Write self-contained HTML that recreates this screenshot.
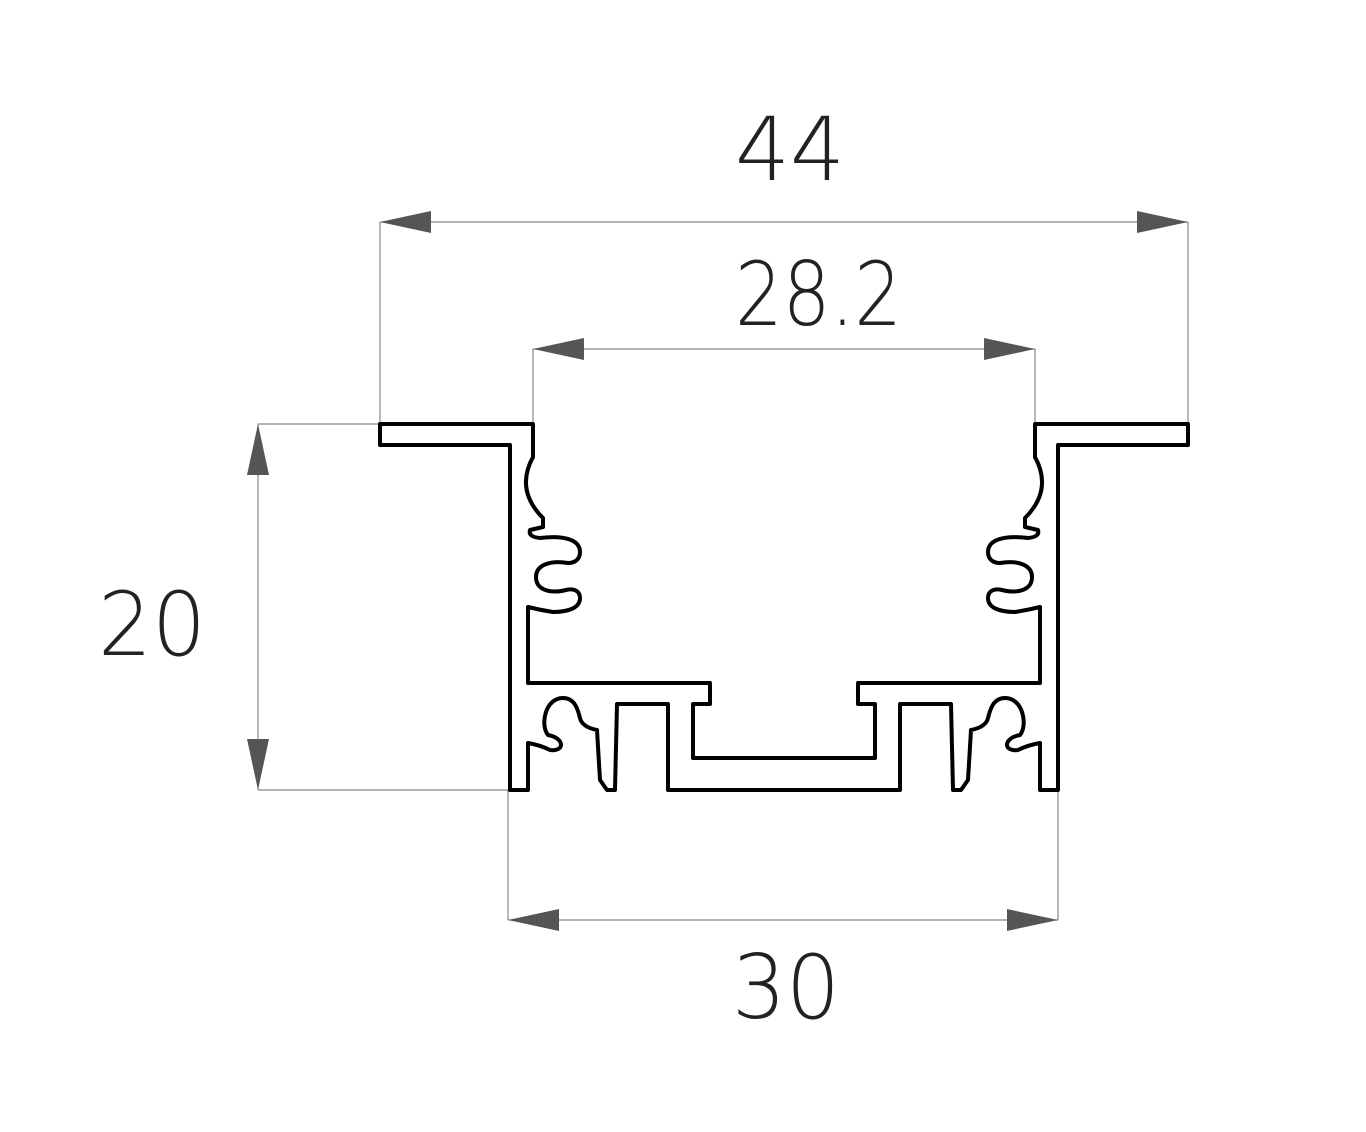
<!DOCTYPE html>
<html><head><meta charset="utf-8"><style>
html,body{margin:0;padding:0;background:#fff;}
svg{display:block;}
text{font-family:"DejaVu Sans","Liberation Sans",sans-serif;font-weight:200;fill:#222;}
</style></head><body>
<svg width="1366" height="1132" viewBox="0 0 1366 1132" xmlns="http://www.w3.org/2000/svg">
<g stroke="#888" stroke-width="1.2" fill="none">
<line x1="380" y1="222" x2="1188" y2="222"/>
<line x1="380" y1="222" x2="380" y2="424"/>
<line x1="1188" y1="222" x2="1188" y2="424"/>
<line x1="533" y1="349" x2="1035" y2="349"/>
<line x1="533" y1="349" x2="533" y2="424"/>
<line x1="1035" y1="349" x2="1035" y2="424"/>
<line x1="258" y1="424" x2="258" y2="790"/>
<line x1="258" y1="424" x2="380" y2="424"/>
<line x1="258" y1="790" x2="510" y2="790"/>
<line x1="508" y1="920" x2="1058" y2="920"/>
<line x1="508" y1="790" x2="508" y2="920"/>
<line x1="1058" y1="790" x2="1058" y2="920"/>
</g>
<g fill="#555">
<polygon points="380,222 431,211 431,233"/>
<polygon points="1188,222 1137,211 1137,233"/>
<polygon points="533,349 584,338 584,360"/>
<polygon points="1035,349 984,338 984,360"/>
<polygon points="258,424 247,475 269,475"/>
<polygon points="258,790 247,739 269,739"/>
<polygon points="508,920 559,909 559,931"/>
<polygon points="1058,920 1007,909 1007,931"/>
</g>
<g font-size="88">
<text x="735" y="180" textLength="110" lengthAdjust="spacingAndGlyphs">44</text>
<text x="735" y="325" textLength="167" lengthAdjust="spacingAndGlyphs">28.2</text>
<text x="98" y="655" textLength="108" lengthAdjust="spacingAndGlyphs">20</text>
<text x="732" y="1018" textLength="108" lengthAdjust="spacingAndGlyphs">30</text>
</g>
<path fill="none" stroke="#000" stroke-width="4" stroke-linejoin="round" d="
M380,424 L533,424 L533,457 Q515,490 543,518 L543,527 L530,530 Q528,537 540,538
C565,535 580,540 580,552 C580,560 574,563 568,563 C550,560 536,565 536,577
C536,590 550,594 566,590 C574,588 580,591 580,598 C580,608 568,612 553,612
Q540,610 528,607 L528,683 L710,683 L710,704 L693,704
L693,758 L875,758 L875,704 L858,704 L858,683 L1040,683 L1040,607
Q1028,610 1015,612 C1000,612 988,608 988,598 C988,591 994,588 1002,590
C1018,594 1032,590 1032,577 C1032,565 1018,560 1000,563 C994,563 988,560 988,552
C988,540 1003,535 1028,538 Q1040,537 1038,530
L1025,527 L1025,518 Q1053,490 1035,457 L1035,424 L1188,424 L1188,445 L1058,445
L1058,790 L1040,790 L1040,743 Q1028,745 1018,750 C1003,752 1003,738 1020,735
C1028,725 1023,698 1005,698 C993,698 990,710 988,718 Q986,727 971,730
L968,780 L961,790 L953,790 L951,704 L900,704 L900,790 L668,790
L668,704 L617,704 L615,790 L607,790 L600,780 L597,730 Q582,727 580,718
C578,710 575,698 563,698 C545,698 540,725 548,735 C565,738 565,752 550,750
Q540,745 528,743 L528,790 L510,790 L510,445 L380,445 Z"/>
</svg>
</body></html>
